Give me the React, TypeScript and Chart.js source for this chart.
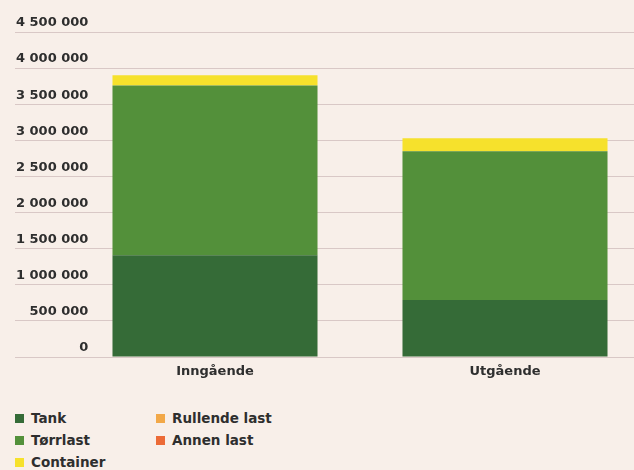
import React, { useEffect, useRef } from "react";
import { Chart, registerables } from "chart.js";

Chart.register(...registerables);

const categories = ["Inngående", "Utgående"];
const seriesNames = ["Tank", "Tørrlast", "Container", "Rullende last", "Annen last"];
const tank = [1410000, 790000];
const torrlast = [2350000, 2060000];
const container = [140000, 180000];
const rullende = [0, 0];
const annen = [0, 0];
const seriesColors = ["#356b37", "#53903a", "#f6e12c", "#f2a848", "#ec6a36"];
const yMax = 4500000;
const yStep = 500000;

const FONT = "'DejaVu Sans', sans-serif";
const TEXT = "#2e2e2e";
const GRID = "#d9c8c6";
const BG = "#f8efe9";

function fmt(v: number): string {
  return String(Math.round(v)).replace(/\B(?=(\d{3})+(?!\d))/g, " ");
}

export default function App() {
  const ref = useRef<HTMLCanvasElement | null>(null);

  useEffect(() => {
    document.documentElement.style.background = BG;
    document.body.style.background = BG;
    if (!ref.current) return;
    const values = [tank, torrlast, container, rullende, annen];
    const chart = new Chart(ref.current, {
      type: "bar",
      data: {
        labels: categories,
        datasets: seriesNames.map((name, i) => ({
          label: name,
          data: values[i],
          backgroundColor: seriesColors[i],
          borderWidth: 0,
          barPercentage: 1,
          categoryPercentage: 0.707,
        })),
      },
      options: {
        animation: false,
        responsive: false,
        layout: { padding: { top: 32, right: 10, left: 0, bottom: 0 } },
        plugins: { legend: { display: false }, tooltip: { enabled: false } },
        scales: {
          x: {
            stacked: true,
            grid: { display: false, drawTicks: false },
            border: { display: false },
            ticks: {
              color: TEXT,
              padding: 7,
              font: { family: FONT, size: 13, weight: "bold" },
            },
            afterFit: (s: any) => {
              s.height = 43;
            },
          },
          y: {
            stacked: true,
            min: 0,
            max: yMax,
            grid: {
              color: GRID,
              lineWidth: 1,
              drawTicks: true,
              tickLength: 55,
            },
            border: { display: false },
            ticks: {
              stepSize: yStep,
              mirror: true,
              crossAlign: "far",
              padding: -54,
              labelOffset: -9,
              color: TEXT,
              font: { family: FONT, size: 13, weight: "bold" },
              callback: (v: any) => fmt(Number(v)),
            },
            afterFit: (s: any) => {
              s.width = 70;
            },
          },
        },
      },
    });
    return () => chart.destroy();
  }, []);

  const rows = 3;
  return (
    <div
      style={{
        position: "fixed",
        left: 0,
        top: 0,
        width: 634,
        height: 470,
        overflow: "hidden",
        background: BG,
      }}
    >
      <canvas ref={ref} width={660} height={400} style={{ display: "block" }} />
      {seriesNames.map((name, i) => {
        const col = Math.floor(i / rows);
        const row = i % rows;
        const left = col === 0 ? 15 : 156;
        const top = 412 + row * 22;
        return (
          <div
            key={name}
            style={{
              position: "absolute",
              left,
              top,
              height: 12,
              display: "flex",
              alignItems: "center",
              fontFamily: FONT,
              fontWeight: "bold",
              fontSize: 13.5,
              color: TEXT,
              whiteSpace: "nowrap",
            }}
          >
            <span
              style={{
                display: "inline-block",
                width: 9,
                height: 9,
                background: seriesColors[i],
                marginRight: 7,
              }}
            />
            <span>{name}</span>
          </div>
        );
      })}
    </div>
  );
}
